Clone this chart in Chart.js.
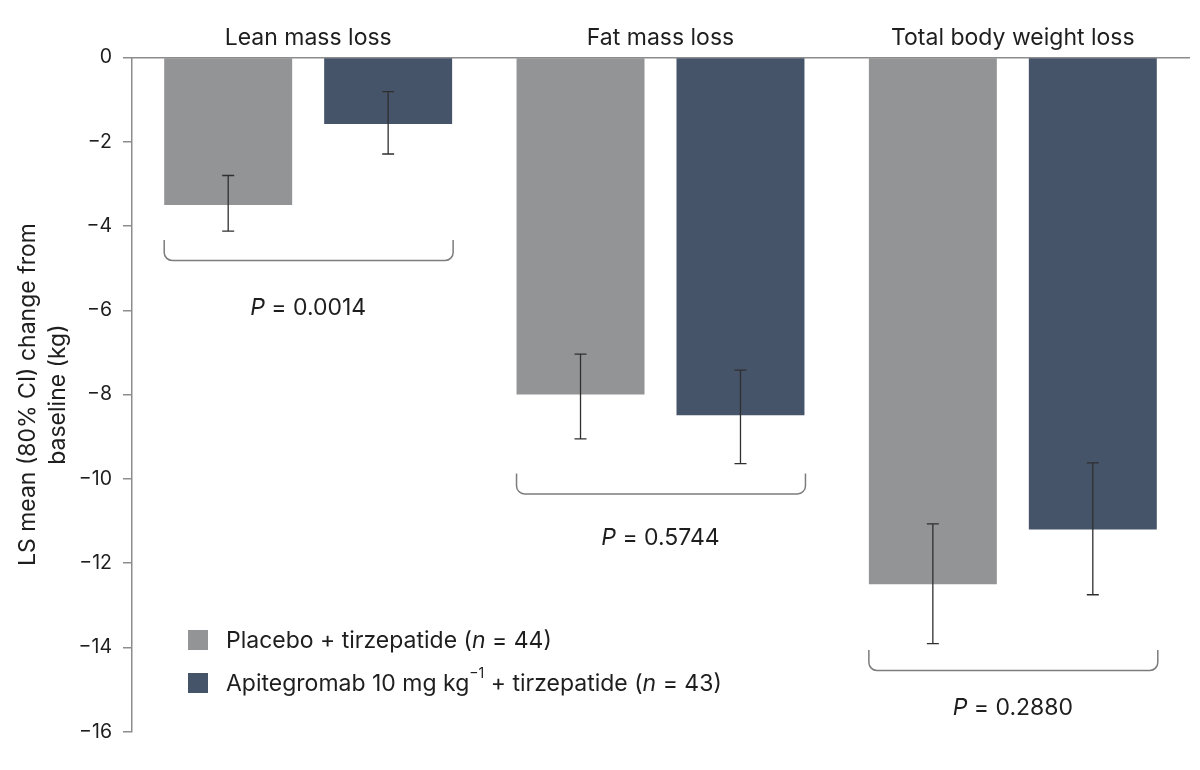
<!DOCTYPE html>
<html>
<head>
<meta charset="utf-8">
<script src="https://cdn.jsdelivr.net/npm/chart.js@4.4.1/dist/chart.umd.min.js"></script>
<style>
  html, body { margin: 0; padding: 0; background: #ffffff; }
  #wrap { width: 1200px; height: 770px; }
</style>
</head>
<body>
<div id="wrap"><canvas id="c" width="1200" height="770"></canvas></div>
<script>
// ---- data ----
const categories = ['Lean mass loss', 'Fat mass loss', 'Total body weight loss'];
const placeboMean = [-3.5, -8.0, -12.5];
const placeboLow  = [-4.12, -9.05, -13.91];
const placeboHigh = [-2.80, -7.04, -11.07];
const apitMean = [-1.58, -8.49, -11.2];
const apitLow  = [-2.29, -9.64, -12.75];
const apitHigh = [-0.81, -7.42, -9.62];
const pValues = ['0.0014', '0.5744', '0.2880'];
const yTickValues = [0, -2, -4, -6, -8, -10, -12, -14, -16];
const seriesLabels = ['Placebo + tirzepatide (n = 44)', 'Apitegromab 10 mg kg\u22121 + tirzepatide (n = 43)'];

// ---- annotation layout (data units for bracket tops / p-value text centres) ----
const bracketTop = [-4.33, -9.87, -14.06];
const pTextY = [-5.95, -11.4, -15.45];

const FONT = 'Inter, "Noto Sans", sans-serif';
const GRAY = '#939496';
const SLATE = '#46546a';
const AXIS = '#8c8c8c';
const TEXT = '#1e1e1e';

const errorBars = {
  id: 'errorBars',
  afterDatasetsDraw(chart) {
    const ctx = chart.ctx, y = chart.scales.y;
    const sets = [[placeboLow, placeboHigh], [apitLow, apitHigh]];
    ctx.save();
    ctx.strokeStyle = '#2f2f2f';
    ctx.lineWidth = 1.3;
    sets.forEach((s, di) => {
      chart.getDatasetMeta(di).data.forEach((bar, i) => {
        const x = bar.x, y1 = y.getPixelForValue(s[0][i]), y2 = y.getPixelForValue(s[1][i]);
        ctx.beginPath();
        ctx.moveTo(x, y1); ctx.lineTo(x, y2);
        ctx.moveTo(x - 6, y1); ctx.lineTo(x + 6, y1);
        ctx.moveTo(x - 6, y2); ctx.lineTo(x + 6, y2);
        ctx.stroke();
      });
    });
    ctx.restore();
  }
};

const brackets = {
  id: 'brackets',
  afterDatasetsDraw(chart) {
    const ctx = chart.ctx, y = chart.scales.y, xs = chart.scales.x;
    const m0 = chart.getDatasetMeta(0).data, m1 = chart.getDatasetMeta(1).data;
    ctx.save();
    categories.forEach((c, i) => {
      const l = m0[i].x - m0[i].width / 2;
      const r = m1[i].x + m1[i].width / 2 + 1;
      const t = y.getPixelForValue(bracketTop[i]);
      const b = t + 20.5;
      const rad = 8;
      ctx.strokeStyle = '#7c7c7c';
      ctx.lineWidth = 1.5;
      ctx.beginPath();
      ctx.moveTo(l, t);
      ctx.lineTo(l, b - rad);
      ctx.arcTo(l, b, l + rad, b, rad);
      ctx.lineTo(r - rad, b);
      ctx.arcTo(r, b, r, b - rad, rad);
      ctx.lineTo(r, t);
      ctx.stroke();
      // p-value text
      const cx = xs.getPixelForValue(i);
      const ty = y.getPixelForValue(pTextY[i]);
      const fi = 'italic 23px ' + FONT, fn = '23px ' + FONT;
      ctx.font = fi; const w1 = ctx.measureText('P').width;
      const rest = ' = ' + pValues[i];
      ctx.font = fn; const w2 = ctx.measureText(rest).width;
      let x0 = cx - (w1 + w2) / 2;
      ctx.fillStyle = TEXT;
      ctx.textBaseline = 'middle';
      ctx.textAlign = 'left';
      ctx.font = fi; ctx.fillText('P', x0, ty);
      ctx.font = fn; ctx.fillText(rest, x0 + w1, ty);
    });
    ctx.restore();
  }
};

const richLegend = {
  id: 'richLegend',
  afterDraw(chart) {
    const ctx = chart.ctx;
    const rows = [
      [{t: 'Placebo + tirzepatide ('}, {t: 'n', i: true}, {t: ' = 44)'}],
      [{t: 'Apitegromab 10 mg kg'}, {t: '\u22121', sup: true}, {t: ' + tirzepatide ('}, {t: 'n', i: true}, {t: ' = 43)'}]
    ];
    const colors = [GRAY, SLATE];
    const ca = chart.chartArea;
    ctx.save();
    rows.forEach((row, ri) => {
      const top = ca.top + 572.5 + ri * 43;
      ctx.fillStyle = colors[ri];
      ctx.fillRect(ca.left + 56, top, 20, 20);
      let x = ca.left + 94;
      const ym = top + 11;
      ctx.fillStyle = TEXT;
      ctx.textAlign = 'left';
      ctx.textBaseline = 'middle';
      row.forEach(seg => {
        if (seg.sup) {
          ctx.font = '14px ' + FONT;
          ctx.fillText(seg.t, x, ym - 10);
        } else {
          ctx.font = (seg.i ? 'italic ' : '') + '23px ' + FONT;
          ctx.fillText(seg.t, x, ym);
        }
        x += ctx.measureText(seg.t).width;
      });
    });
    ctx.restore();
  }
};

new Chart(document.getElementById('c'), {
  type: 'bar',
  data: {
    labels: categories,
    datasets: [
      { label: seriesLabels[0], data: placeboMean, backgroundColor: GRAY, borderWidth: 0 },
      { label: seriesLabels[1], data: apitMean, backgroundColor: SLATE, borderWidth: 0 }
    ]
  },
  options: {
    responsive: false,
    animation: false,
    devicePixelRatio: 1,
    layout: { padding: { top: 0, left: 0, right: 11, bottom: 38.3 } },
    categoryPercentage: 0.908,
    barPercentage: 0.8,
    plugins: { legend: { display: false }, tooltip: { enabled: false } },
    scales: {
      x: {
        position: 'top',
        grid: { display: false },
        border: { display: true, color: AXIS, width: 1.5 },
        ticks: { color: TEXT, font: { family: FONT, size: 23 }, padding: -2 },
        afterFit(s) { s.height = 57.5; }
      },
      y: {
        min: -16, max: 0,
        afterBuildTicks(s) { s.ticks = yTickValues.map(v => ({ value: v })); },
        grid: { drawOnChartArea: false, drawTicks: true, tickLength: 9, color: AXIS, lineWidth: 1.5 },
        border: { display: true, color: AXIS, width: 1.5 },
        ticks: {
          color: TEXT, font: { family: FONT, size: 19.5 }, padding: 11,
          callback: v => String(v).replace('-', '\u2212')
        },
        title: {
          display: true,
          text: ['LS mean (80% CI) change from', 'baseline (kg)'],
          color: TEXT,
          font: { family: FONT, size: 23, lineHeight: 1.3 },
          padding: { top: 13, bottom: 0 }
        },
        afterFit(s) { s.width = 132; }
      }
    }
  },
  plugins: [errorBars, brackets, richLegend]
});
</script>
</body>
</html>
